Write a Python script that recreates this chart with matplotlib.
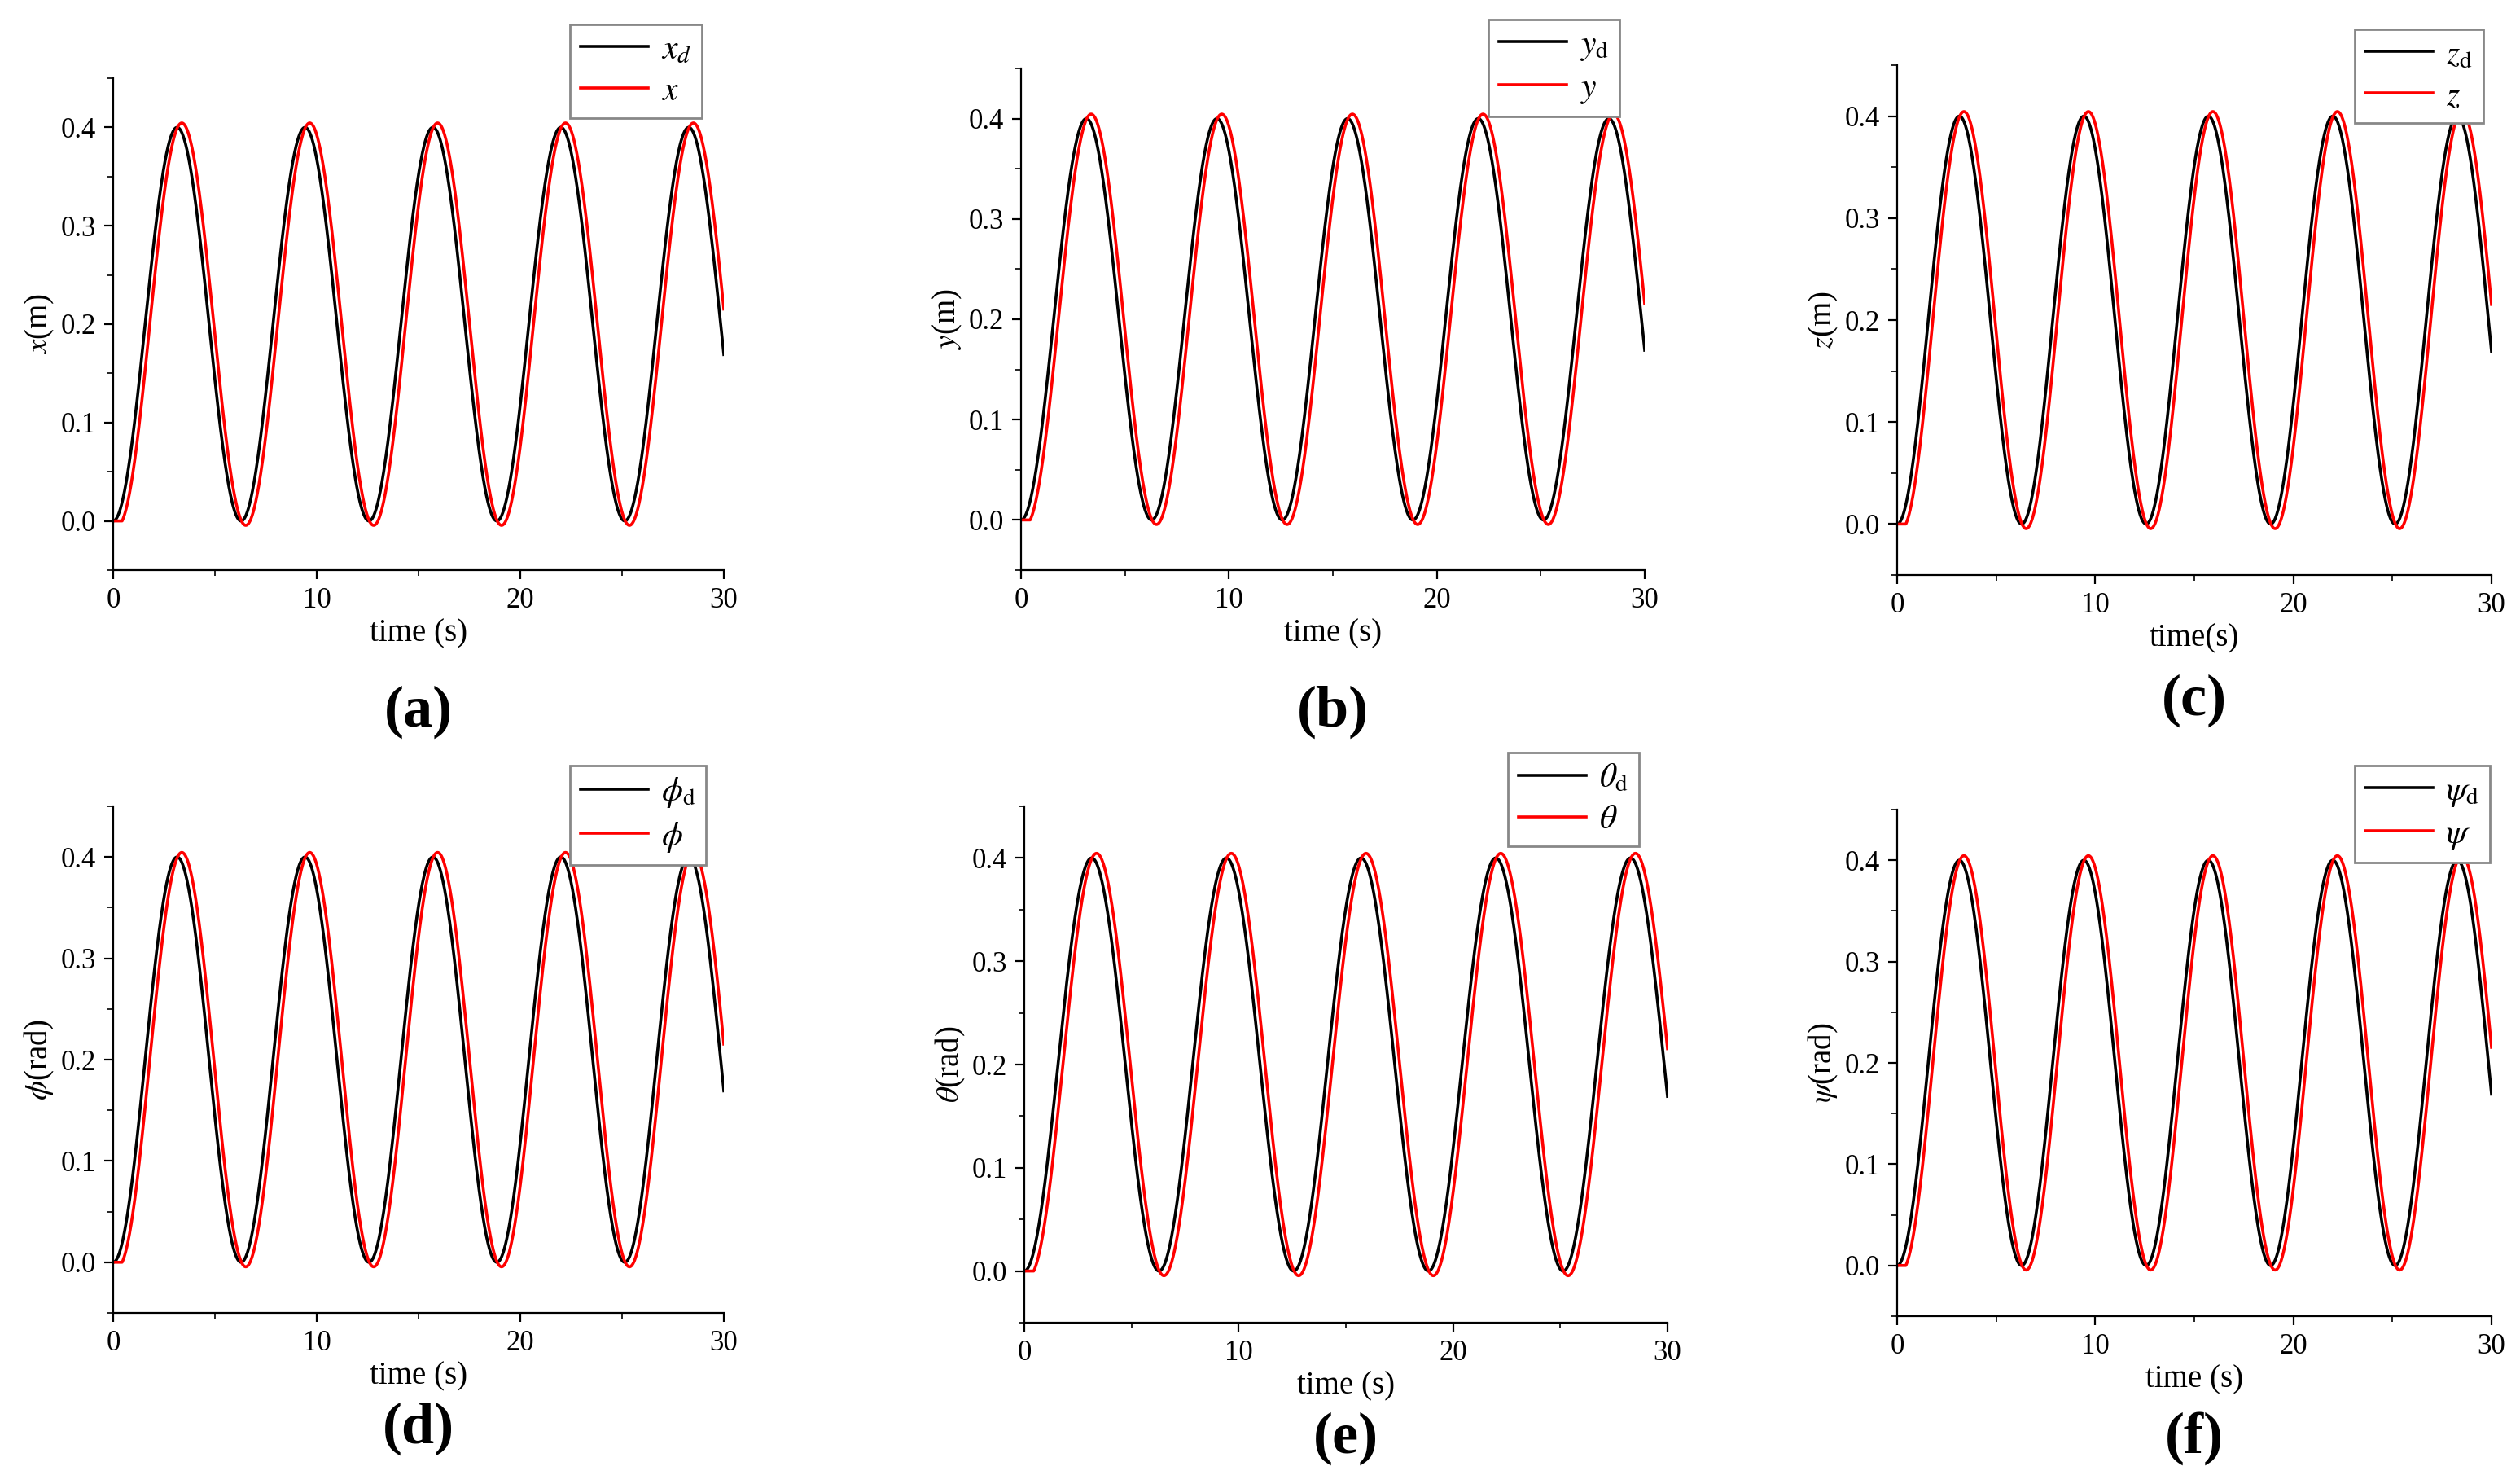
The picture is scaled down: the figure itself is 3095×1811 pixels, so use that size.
import numpy as np
import matplotlib.pyplot as plt
from matplotlib.ticker import MultipleLocator

plt.rcParams['font.family'] = ['Liberation Serif', 'DejaVu Serif']
plt.rcParams['mathtext.fontset'] = 'stix'

offset = 0.2
amp_desired = 0.2
amp_actual = 0.2045
lag_actual = 0.23
t_end = 30.0

t = np.linspace(0, t_end, 1500)
desired = offset - amp_desired * np.cos(t)
actual = np.where(t < lag_actual, 0.0, offset - amp_actual * np.cos(t - lag_actual))
actual = np.maximum(actual, np.where(t < 1.0, 0.0, -1))

panel_tags = ['(a)', '(b)', '(c)', '(d)', '(e)', '(f)']
ylabels = [r'$x$(m)', r'$y$(m)', r'$z$(m)', r'$\phi$(rad)', r'$\theta$(rad)', r'$\psi$(rad)']
xlabels = ['time (s)', 'time (s)', 'time(s)', 'time (s)', 'time (s)', 'time (s)']
desired_labels = [r'$x_d$', r'$y_\mathrm{d}$', r'$z_\mathrm{d}$',
                  r'$\phi_\mathrm{d}$', r'$\theta_\mathrm{d}$', r'$\psi_\mathrm{d}$']
actual_labels = [r'$x$', r'$y$', r'$z$', r'$\phi$', r'$\theta$', r'$\psi$']

W, H = 3095, 1811
# axes boxes in pixels: left, top, right, bottom
boxes = [
    (139, 96, 889, 700),
    (1254, 84, 2020, 700),
    (2330, 80, 3060, 706),
    (139, 990, 889, 1612),
    (1258, 990, 2048, 1624),
    (2330, 994, 3060, 1616),
]
legend_boxes = [(700, 30), (1828, 24), (2892, 36), (700, 940), (1852, 924), (2892, 940)]
tag_y = [874, 874, 860, 1754, 1766, 1766]

fig = plt.figure(figsize=(W / 200, H / 200), dpi=200)

for i in range(6):
    l, tp, r, b = boxes[i]
    ax = fig.add_axes([l / W, 1 - b / H, (r - l) / W, (b - tp) / H])
    ax.plot(t, desired, color='black', lw=1.3, label=desired_labels[i])
    ax.plot(t, actual, color='red', lw=1.3, label=actual_labels[i])
    ax.set_xlim(0, 30)
    ax.set_ylim(-0.05, 0.45)
    ax.spines['top'].set_visible(False)
    ax.spines['right'].set_visible(False)
    ax.xaxis.set_major_locator(MultipleLocator(10))
    ax.xaxis.set_minor_locator(MultipleLocator(5))
    ax.yaxis.set_minor_locator(MultipleLocator(0.05))
    ax.set_yticks([0.0, 0.1, 0.2, 0.3, 0.4])
    ax.tick_params(direction='out', labelsize=12.5, length=4)
    ax.tick_params(which='minor', direction='out', length=2.5)
    ax.set_xlabel(xlabels[i], fontsize=14, labelpad=2)
    ax.set_ylabel(ylabels[i], fontsize=14, labelpad=2)
    lx, ly = legend_boxes[i]
    ax.legend(loc='upper left', bbox_to_anchor=(lx / W, 1 - ly / H),
              bbox_transform=fig.transFigure, fontsize=15, fancybox=False,
              edgecolor='#888888', framealpha=1, handlelength=2.0,
              borderpad=0.3, labelspacing=0.3, handletextpad=0.4,
              borderaxespad=0)
    fig.text((l + r) / 2 / W, 1 - tag_y[i] / H, panel_tags[i], ha='center',
             va='center', fontsize=26, fontweight='bold')

fig.savefig('out.png', dpi=200)
